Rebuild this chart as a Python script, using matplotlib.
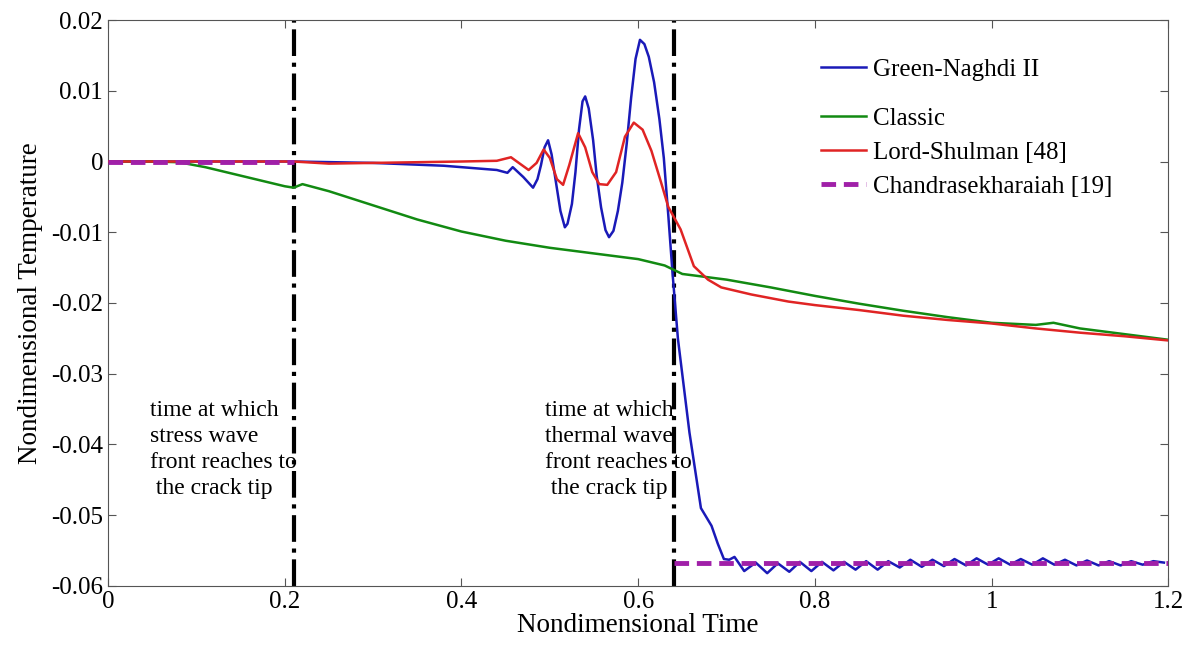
import matplotlib
matplotlib.use('Agg')
from matplotlib import pyplot as plt
import numpy as np

plt.rcParams['font.family'] = ['Liberation Serif', 'DejaVu Serif']

# Classic
green_t = [0, 0.05, 0.08, 0.11, 0.14, 0.17, 0.2, 0.21, 0.22, 0.25, 0.3, 0.35, 0.4, 0.45,
           0.5, 0.55, 0.6, 0.63, 0.65, 0.7, 0.75, 0.8, 0.85, 0.9, 0.95, 1.0, 1.05, 1.07,
           1.1, 1.15, 1.2]
green_v = [0, 0, -0.0001, -0.0008, -0.0017, -0.0026, -0.0035, -0.0037, -0.0032, -0.0042,
           -0.0062, -0.0082, -0.0099, -0.0112, -0.0122, -0.0130, -0.0138, -0.0147, -0.0159,
           -0.0167, -0.0178, -0.0190, -0.0201, -0.0211, -0.0220, -0.0228, -0.0231, -0.0228,
           -0.0236, -0.0244, -0.0252]

# Lord-Shulman
red_t = [0, 0.21, 0.25, 0.3, 0.35, 0.4, 0.44, 0.456, 0.466, 0.476, 0.485, 0.493, 0.5,
         0.508, 0.515, 0.522, 0.532, 0.54, 0.548, 0.556, 0.565, 0.575, 0.585, 0.595, 0.605,
         0.615, 0.626, 0.634, 0.648, 0.663, 0.679, 0.694, 0.728, 0.77, 0.8,
         0.85, 0.9, 0.95, 1.0, 1.05, 1.1, 1.15, 1.2]
red_v = [0, 0, -0.0003, -0.0002, -0.0001, 0, 0.0001, 0.0006, -0.0003, -0.0012, -0.0002,
         0.0017, 0.0005, -0.0025, -0.0033, -0.0005, 0.0040, 0.0020, -0.0015, -0.0032,
         -0.0033, -0.0015, 0.0035, 0.0055, 0.0045, 0.0015, -0.0030, -0.0064, -0.0096,
         -0.0148, -0.0167, -0.0178, -0.0188, -0.0198, -0.0203, -0.0210, -0.0218, -0.0224,
         -0.0229, -0.0236, -0.0242, -0.0247, -0.0253]

# Green-Naghdi II
blue_t = [0, 0.21, 0.3, 0.38, 0.44, 0.452, 0.458, 0.47, 0.481, 0.486, 0.49, 0.494, 0.498,
          0.502, 0.507, 0.512, 0.517, 0.520, 0.525, 0.529, 0.533, 0.537, 0.540, 0.544,
          0.549, 0.553, 0.558, 0.563, 0.567, 0.572, 0.577, 0.582, 0.587, 0.592, 0.597,
          0.602, 0.607, 0.612, 0.618, 0.624, 0.629, 0.634, 0.639, 0.645, 0.658, 0.671,
          0.683, 0.69, 0.697, 0.703, 0.709, 0.72,
          0.733, 0.746, 0.758, 0.771, 0.783, 0.796, 0.808, 0.821, 0.833, 0.846, 0.858,
          0.871, 0.883, 0.896, 0.908, 0.921, 0.933, 0.946, 0.958, 0.971, 0.983, 0.996,
          1.008, 1.021, 1.033, 1.046, 1.058, 1.071, 1.083, 1.096, 1.108, 1.121, 1.133,
          1.146, 1.158, 1.171, 1.183, 1.195]
blue_v = [0, 0, -0.0002, -0.0006, -0.0012, -0.0016, -0.0008, -0.0022, -0.0037, -0.0025,
          -0.0005, 0.0020, 0.0030, 0.0010, -0.0030, -0.0070, -0.0093, -0.0088, -0.0060,
          -0.0015, 0.0045, 0.0085, 0.0092, 0.0075, 0.0030, -0.0020, -0.0065, -0.0097,
          -0.0107, -0.0098, -0.0070, -0.0030, 0.0025, 0.0090, 0.0145, 0.0172, 0.0166,
          0.0148, 0.0112, 0.0060, 0.0005, -0.0075, -0.0160, -0.0251, -0.0383, -0.0490,
          -0.0515, -0.0540, -0.0562, -0.0563, -0.0559, -0.0579,
          -0.0567, -0.0582, -0.0568, -0.0580, -0.0566, -0.0579, -0.0566, -0.0578, -0.0566,
          -0.0577, -0.0565, -0.0577, -0.0565, -0.0574, -0.0563, -0.0573, -0.0563, -0.0572,
          -0.0562, -0.0571, -0.0561, -0.0570, -0.0561, -0.0570, -0.0562, -0.0570, -0.0561,
          -0.0570, -0.0563, -0.0571, -0.0564, -0.0571, -0.0565, -0.0571, -0.0565, -0.0570,
          -0.0565, -0.0567]

# Chandrasekharaiah
purple_t = [0, 0.21, np.nan, 0.64, 1.2]
purple_v = [0, 0, np.nan, -0.0567, -0.0567]

wave_times = [0.21, 0.64]
notes = ["time at which\nstress wave\nfront reaches to\n the crack tip",
         "time at which\nthermal wave\nfront reaches to\n the crack tip"]
note_x = [0.047, 0.495]


def main():
	fig = plt.figure(figsize=(11.94, 6.46), dpi=100)
	ax = fig.add_axes([0.0905, 0.093, 0.888, 0.876])

	for t in wave_times:
		ax.axvline(t, color='black', linestyle='-.', linewidth=3, zorder=1)

	l_gn, = ax.plot(blue_t, blue_v, color='#1a1ab8', lw=1.8, label='Green-Naghdi II', zorder=3)
	l_cl, = ax.plot(green_t, green_v, color='#128a12', lw=1.8, label='Classic', zorder=3)
	l_ls, = ax.plot(red_t, red_v, color='#e02424', lw=1.8, label='Lord-Shulman [48]', zorder=3)
	l_ch, = ax.plot(purple_t, purple_v, color='#a020a8', lw=3.5, linestyle=(0, (3, 1.6)),
		label='Chandrasekharaiah [19]', zorder=4)

	for x, s in zip(note_x, notes):
		ax.text(x, -0.0337, s, fontsize=17, va='top', ha='left', linespacing=1.32, zorder=2)

	ax.set_xlim(0, 1.2)
	ax.set_ylim(-0.06, 0.02)
	ax.set_xticks([0, 0.2, 0.4, 0.6, 0.8, 1.0, 1.2])
	ax.set_xticklabels(['0', '0.2', '0.4', '0.6', '0.8', '1', '1.2'])
	ax.set_yticks([0.02, 0.01, 0, -0.01, -0.02, -0.03, -0.04, -0.05, -0.06])
	ax.set_yticklabels(['0.02', '0.01', '0', '-0.01', '-0.02', '-0.03', '-0.04', '-0.05', '-0.06'])
	ax.tick_params(direction='in', top=True, right=True, labelsize=18, length=6, color='#555555')
	for sp in ax.spines.values():
		sp.set_color('#555555')
	ax.set_xlabel('Nondimensional Time', fontsize=19.5, labelpad=0)
	ax.set_ylabel('Nondimensional Temperature', fontsize=19.5, labelpad=6)

	# legend: first entry set apart from the others
	leg1 = ax.legend(handles=[l_gn], loc='upper left', bbox_to_anchor=(0.661, 0.954),
		frameon=False, fontsize=18, handlelength=1.8, handletextpad=0.25, borderpad=0)
	ax.add_artist(leg1)
	ax.legend(handles=[l_cl, l_ls, l_ch], loc='upper left', bbox_to_anchor=(0.661, 0.868),
		frameon=False, fontsize=18, handlelength=1.8, handletextpad=0.25, borderpad=0,
		labelspacing=0.46)

	fig.savefig('out.png', dpi=100)
	plt.close(fig)


if __name__ == '__main__':
	main()
